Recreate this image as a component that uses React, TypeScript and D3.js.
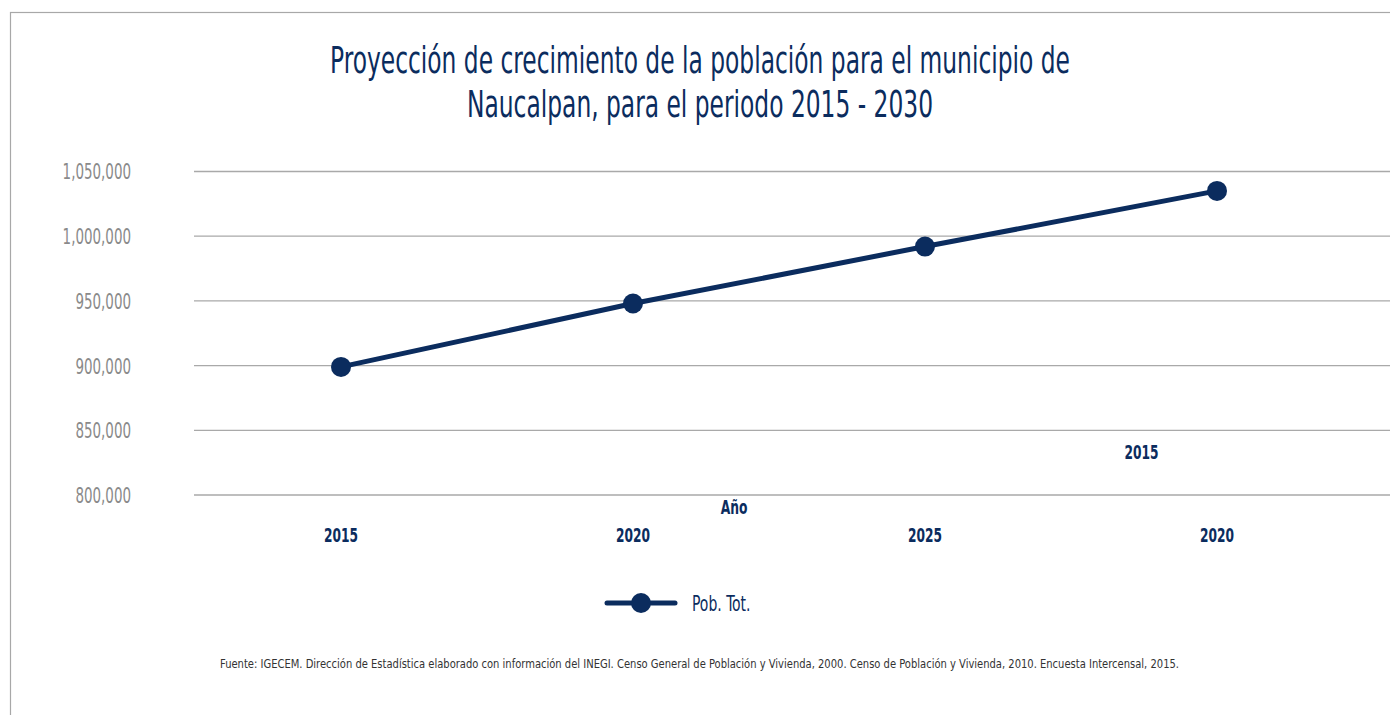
import React, { useLayoutEffect, useRef, useState } from "react";
import * as d3 from "d3";

// Chart values
const categories = ["2015", "2020", "2025", "2020"];
const population = [899000, 948000, 992000, 1035000];
const yTicks = [800000, 850000, 900000, 950000, 1000000, 1050000];
const titleLines = [
  "Proyección de crecimiento de la población para el municipio de",
  "Naucalpan, para el periodo 2015 - 2030",
];
const seriesName = "Pob. Tot.";
const axisTitle = "Año";
const strayLabel = "2015";
const source =
  "Fuente: IGECEM. Dirección de Estadística elaborado con información del INEGI. Censo General de Población y Vivienda, 2000. Censo de Población y Vivienda, 2010. Encuesta Intercensal, 2015.";

const W = 1390;
const H = 715;
const NAVY = "#0b2c5e";
const FONT = "'DejaVu Sans Condensed', 'Liberation Sans Narrow', sans-serif";

// narrow text: squeeze horizontally to mimic a condensed face
function CText(props: {
  x: number;
  y: number;
  sx: number;
  size: number;
  fill: string;
  anchor?: "start" | "middle" | "end";
  bold?: boolean;
  children: React.ReactNode;
}) {
  const { x, y, sx, size, fill, anchor = "start", bold, children } = props;
  return (
    <g transform={`translate(${x},${y}) scale(${sx},1)`}>
      <text x={0} y={0} dy="0.36em" textAnchor={anchor} fill={fill} fontFamily={FONT} fontSize={size}
        fontWeight={bold ? "bold" : "normal"}>
        {children}
      </text>
    </g>
  );
}

// text squeezed so that it spans a given width
function FitText(props: {
  x: number;
  y: number;
  width: number;
  size: number;
  fill: string;
  anchor?: "start" | "middle" | "end";
  children: string;
}) {
  const { x, y, width, size, fill, anchor = "start", children } = props;
  const ref = useRef<SVGTextElement>(null);
  const [sx, setSx] = useState(0.7);
  useLayoutEffect(() => {
    if (!ref.current) return;
    const w = ref.current.getComputedTextLength();
    if (w > 0) setSx(width / w);
  }, [children, width, size]);
  return (
    <g transform={`translate(${x},${y}) scale(${sx},1)`}>
      <text ref={ref} x={0} y={0} textAnchor={anchor} fill={fill} fontFamily={FONT} fontSize={size}>
        {children}
      </text>
    </g>
  );
}

export default function App() {
  const x = d3
    .scalePoint<number>()
    .domain(d3.range(categories.length))
    .range([195, 1363])
    .padding(0.5);

  const y = d3.scaleLinear().domain([800000, 1050000]).range([495, 171.5]);

  const fmt = d3.format(",");

  const line = d3
    .line<number>()
    .x((_, i) => x(i) as number)
    .y((d) => y(d));

  return (
    <div style={{ position: "absolute", left: 0, top: 0 }}>
      <svg width={W} height={H} style={{ display: "block", background: "#fff" }}>
        {/* frame */}
        <rect x={10.5} y={12.5} width={W + 20} height={H + 20} fill="none" stroke="#a8a8a8" strokeWidth={1.2} />

        {/* title */}
        <FitText x={700} y={73} width={740} size={38} fill={NAVY} anchor="middle">
          {titleLines[0]}
        </FitText>
        <FitText x={700} y={117} width={466} size={38} fill={NAVY} anchor="middle">
          {titleLines[1]}
        </FitText>

        {/* grid + y labels */}
        {yTicks.map((t) => (
          <g key={t}>
            <line x1={194} x2={W} y1={y(t)} y2={y(t)} stroke="#a9a9a9" strokeWidth={1.3} />
            <CText x={131} y={y(t)} sx={0.68} size={22} fill="#8a8a8a" anchor="end">
              {fmt(t)}
            </CText>
          </g>
        ))}

        {/* x labels */}
        {categories.map((c, i) => (
          <CText key={i} x={x(i) as number} y={535} sx={0.68} size={20} fill={NAVY} anchor="middle" bold>
            {c}
          </CText>
        ))}
        <CText x={734} y={507} sx={0.72} size={19} fill={NAVY} anchor="middle" bold>
          {axisTitle}
        </CText>
        <CText x={1141.5} y={452} sx={0.68} size={20} fill={NAVY} anchor="middle" bold>
          {strayLabel}
        </CText>

        {/* series */}
        <path d={line(population) ?? ""} fill="none" stroke={NAVY} strokeWidth={5} />
        {population.map((v, i) => (
          <circle key={i} cx={x(i)} cy={y(v)} r={10} fill={NAVY} />
        ))}

        {/* legend */}
        <line x1={607} x2={675} y1={603} y2={603} stroke={NAVY} strokeWidth={5} strokeLinecap="round" />
        <circle cx={641} cy={603} r={10} fill={NAVY} />
        <CText x={692} y={603} sx={0.74} size={21} fill={NAVY}>
          {seriesName}
        </CText>

        {/* source */}
        <FitText x={220} y={668} width={959} size={13} fill="#333">
          {source}
        </FitText>
      </svg>
    </div>
  );
}
